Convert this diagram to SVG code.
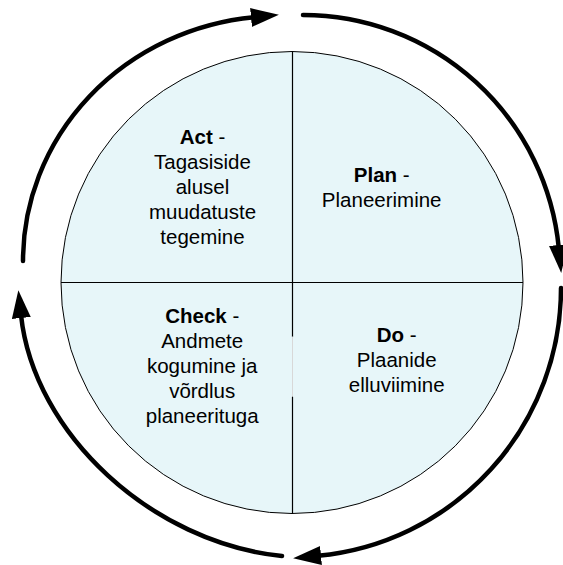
<svg xmlns="http://www.w3.org/2000/svg" width="563" height="565" viewBox="0 0 563 565">
  <style>
    .cycle { fill: none; stroke: #000; stroke-width: 4.5; stroke-linecap: round; }
    .divider { stroke: #000; stroke-width: 1.2; }
    .label { font-family: "Liberation Sans", Arial, sans-serif; font-size: 20.5px; fill: #000; text-anchor: middle; }
    .label .title { font-weight: bold; }
  </style>
  <defs>
    <marker id="head" markerUnits="userSpaceOnUse" markerWidth="30" markerHeight="20" refX="3" refY="9.5" orient="auto">
      <path d="M0,0 L28,9.5 L0,19 z" fill="#000"/>
    </marker>
  </defs>

  <!-- disc split into four quadrants -->
  <g id="disc">
    <circle cx="292" cy="282.5" r="231" fill="#E7F6F9" stroke="#000" stroke-width="1"/>
    <line class="divider" x1="61" y1="282.5" x2="523" y2="282.5"/>
    <line class="divider" x1="292.5" y1="51.5" x2="292.5" y2="336.7"/>
    <line x1="292.5" y1="336.7" x2="292.5" y2="396.7" stroke="#D8D8D8" stroke-width="1"/>
    <line class="divider" x1="292.5" y1="396.7" x2="292.5" y2="513.5"/>
  </g>

  <g id="act" class="label">
    <text x="202.5" y="144"><tspan class="title">Act</tspan> -</text>
    <text x="202.5" y="169">Tagasiside</text>
    <text x="202.5" y="194">alusel</text>
    <text x="202.5" y="219">muudatuste</text>
    <text x="202.5" y="244">tegemine</text>
  </g>

  <g id="plan" class="label">
    <text x="381.7" y="181.7"><tspan class="title">Plan</tspan> -</text>
    <text x="381.7" y="206.7">Planeerimine</text>
  </g>

  <g id="check" class="label">
    <text x="202.2" y="322.7"><tspan class="title">Check</tspan> -</text>
    <text x="202.2" y="347.7">Andmete</text>
    <text x="202.2" y="372.7">kogumine ja</text>
    <text x="202.2" y="397.7">võrdlus</text>
    <text x="202.2" y="422.7">planeerituga</text>
  </g>

  <g id="do" class="label">
    <text x="396.7" y="341.7"><tspan class="title">Do</tspan> -</text>
    <text x="396.7" y="366.7">Plaanide</text>
    <text x="396.7" y="391.7">elluviimine</text>
  </g>

  <!-- clockwise cycle arrows around the disc -->
  <g id="connectors">
    <path class="cycle" d="M23,261 A256,245 0 0 1 254,17.2" marker-end="url(#head)"/>
    <path class="cycle" d="M303,15 A257,258 0 0 1 558.8,248" marker-end="url(#head)"/>
    <path class="cycle" d="M561,288 A268,269 0 0 1 318,555.8" marker-end="url(#head)"/>
    <path class="cycle" d="M282,556 C152.7,543 33.7,434.3 21,315" marker-end="url(#head)"/>
  </g>
</svg>
